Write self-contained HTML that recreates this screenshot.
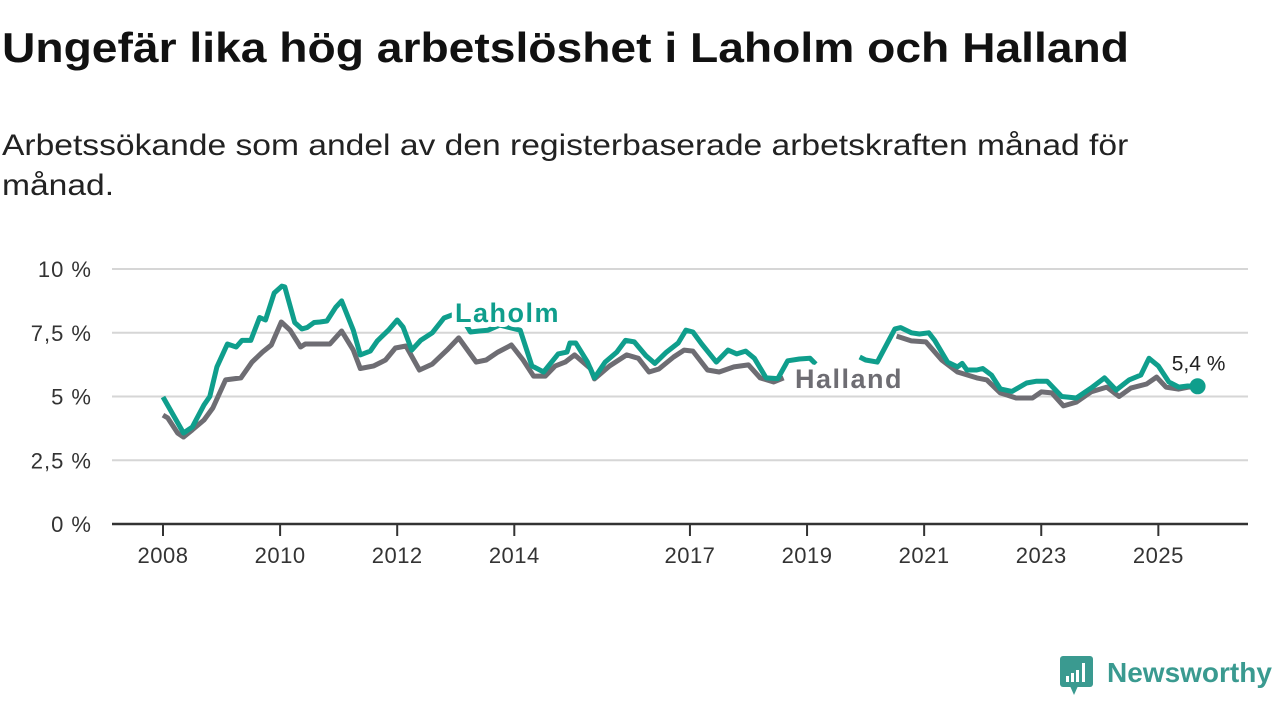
<!DOCTYPE html>
<html><head><meta charset="utf-8">
<style>
body{margin:0;width:1280px;height:720px;background:#fff;font-family:"Liberation Sans","DejaVu Sans",sans-serif;overflow:hidden;position:relative}
h1{position:absolute;left:2px;top:24px;margin:0;font-size:42px;font-weight:bold;color:#111;transform:scaleX(1.1);transform-origin:0 0;white-space:nowrap}
p{position:absolute;left:2px;top:126px;margin:0;font-size:30px;line-height:40px;color:#222;width:1060px;transform:scaleX(1.12);transform-origin:0 0}
svg{position:absolute;left:0;top:0}
</style></head><body>
<h1>Ungefär lika hög arbetslöshet i Laholm och Halland</h1>
<p>Arbetssökande som andel av den registerbaserade arbetskraften månad för månad.</p>
<svg id="chart" width="1280" height="720"></svg>
<script>
const yTicks=[0,2.5,5,7.5,10];
const yTickLabels=["0 %","2,5 %","5 %","7,5 %","10 %"];
const xTicks=[2008,2010,2012,2014,2017,2019,2021,2023,2025];
const laholmDates=[2008.0,2008.35,2008.5,2008.7,2008.8,2008.92,2009.1,2009.25,2009.35,2009.5,2009.65,2009.75,2009.9,2010.03,2010.08,2010.25,2010.37,2010.46,2010.58,2010.68,2010.8,2010.95,2011.05,2011.25,2011.37,2011.54,2011.66,2011.85,2012.0,2012.1,2012.25,2012.4,2012.6,2012.8,2013.05,2013.25,2013.4,2013.55,2013.75,2014.1,2014.3,2014.5,2014.75,2014.9,2014.95,2015.05,2015.25,2015.37,2015.55,2015.75,2015.9,2016.05,2016.25,2016.4,2016.6,2016.8,2016.93,2017.05,2017.2,2017.45,2017.65,2017.8,2017.95,2018.1,2018.3,2018.5,2018.67,2018.87,2019.05,2019.15,2019.5,2019.9,2020.0,2020.2,2020.5,2020.6,2020.78,2020.92,2021.08,2021.18,2021.4,2021.57,2021.65,2021.73,2021.9,2022.0,2022.15,2022.3,2022.5,2022.75,2022.92,2023.1,2023.35,2023.6,2023.85,2024.08,2024.28,2024.5,2024.7,2024.84,2025.0,2025.18,2025.35,2025.5,2025.67];
const laholmValues=[4.98,3.57,3.8,4.67,5.0,6.16,7.06,6.94,7.2,7.2,8.1,8.0,9.06,9.33,9.3,7.9,7.65,7.7,7.9,7.92,7.96,8.5,8.75,7.6,6.63,6.78,7.18,7.6,8.0,7.72,6.82,7.2,7.5,8.08,8.3,7.53,7.57,7.6,7.8,7.6,6.2,5.96,6.67,6.74,7.1,7.1,6.35,5.73,6.35,6.74,7.2,7.14,6.6,6.3,6.74,7.1,7.6,7.53,7.06,6.35,6.82,6.67,6.78,6.5,5.73,5.7,6.4,6.47,6.5,6.27,null,6.55,6.43,6.35,7.65,7.7,7.5,7.45,7.5,7.2,6.35,6.16,6.3,6.04,6.04,6.1,5.84,5.3,5.2,5.53,5.6,5.6,5.0,4.94,5.33,5.73,5.25,5.65,5.84,6.5,6.2,5.57,5.37,5.41,5.4];
const hallandDates=[2008.0,2008.08,2008.25,2008.35,2008.5,2008.7,2008.85,2009.07,2009.33,2009.52,2009.7,2009.85,2010.02,2010.17,2010.35,2010.43,2010.85,2011.05,2011.25,2011.37,2011.6,2011.8,2011.97,2012.15,2012.38,2012.6,2012.85,2013.05,2013.35,2013.52,2013.72,2013.95,2014.15,2014.33,2014.53,2014.7,2014.87,2015.03,2015.3,2015.37,2015.63,2015.92,2016.12,2016.3,2016.47,2016.72,2016.9,2017.05,2017.3,2017.5,2017.75,2018.0,2018.2,2018.43,2018.6,2019.5,2020.53,2020.78,2021.03,2021.3,2021.57,2021.9,2022.07,2022.3,2022.57,2022.85,2023.0,2023.18,2023.38,2023.6,2023.85,2024.12,2024.33,2024.53,2024.8,2024.97,2025.13,2025.35,2025.52,2025.67];
const hallandValues=[4.27,4.16,3.57,3.41,3.69,4.08,4.55,5.65,5.73,6.35,6.74,7.02,7.92,7.6,6.94,7.06,7.06,7.57,6.82,6.1,6.2,6.43,6.9,6.98,6.04,6.27,6.82,7.3,6.35,6.43,6.74,7.02,6.43,5.8,5.8,6.2,6.35,6.63,6.1,5.69,6.2,6.63,6.5,5.96,6.08,6.55,6.82,6.78,6.04,5.96,6.16,6.24,5.73,5.57,5.73,null,7.37,7.18,7.14,6.43,5.96,5.73,5.65,5.14,4.94,4.94,5.18,5.14,4.63,4.78,5.18,5.37,5.0,5.33,5.49,5.76,5.37,5.29,5.37,5.4];
const lastValueLabel="5,4 %";

const NS="http://www.w3.org/2000/svg";
const svg=document.getElementById('chart');
const xs=d=>163+(d-2008)*58.55;
const ys=v=>524-v*25.5;
function mk(tag,attrs,parent){const e=document.createElementNS(NS,tag);for(const k in attrs)e.setAttribute(k,attrs[k]);(parent||svg).appendChild(e);return e;}

yTicks.forEach((t,i)=>{
  if(t>0){const g=mk('line',{x1:112,x2:1248,y1:ys(t),y2:ys(t),stroke:'#d6d6d6','stroke-width':2});
  
  }
  const l=mk('text',{x:92,y:ys(t)+8,'text-anchor':'end','font-size':22,'letter-spacing':1,fill:'#333'});
  l.textContent=yTickLabels[i];
  
  
});
const ax=mk('line',{x1:112,x2:1248,y1:524,y2:524,stroke:'#333','stroke-width':2.5});


xTicks.forEach(t=>{
  const tk=mk('line',{x1:xs(t),x2:xs(t),y1:524,y2:536,stroke:'#333','stroke-width':2});
  
  
  const l=mk('text',{x:xs(t),y:563,'text-anchor':'middle','font-size':22,'letter-spacing':0.5,fill:'#333'});
  l.textContent=t;
  
  
});
function path(dates,vals){let s='',pen=false;dates.forEach((d,i)=>{const v=vals[i];if(v===null){pen=false;return;}s+=(pen?'L':'M')+xs(d).toFixed(1)+','+ys(v).toFixed(1);pen=true;});return s;}
const hl=mk('path',{d:path(hallandDates,hallandValues),fill:'none',stroke:'#6e6d73','stroke-width':5,'stroke-linejoin':'round'});


const ll=mk('path',{d:path(laholmDates,laholmValues),fill:'none',stroke:'#0f9e8c','stroke-width':5,'stroke-linejoin':'round'});


const n=laholmDates.length-1;
const dot=mk('circle',{cx:xs(laholmDates[n]),cy:ys(laholmValues[n]),r:8,fill:'#0f9e8c'});


const lv=mk('text',{x:xs(laholmDates[n])+1,y:ys(laholmValues[n])-16,'text-anchor':'middle','font-size':21,fill:'#222',stroke:'#fff','stroke-width':6,'paint-order':'stroke'});
lv.textContent=lastValueLabel;


const lab1=mk('text',{x:455,y:322,'font-size':27,'letter-spacing':1.5,'font-weight':'bold',fill:'#0f9e8c',stroke:'#fff','stroke-width':10,'paint-order':'stroke','stroke-linejoin':'round'});
lab1.textContent='Laholm';


const lab2=mk('text',{x:795,y:388,'font-size':27,'letter-spacing':1.5,'font-weight':'bold',fill:'#6e6d73',stroke:'#fff','stroke-width':10,'paint-order':'stroke','stroke-linejoin':'round'});
lab2.textContent='Halland';


</script>
<svg width="1280" height="720" style="pointer-events:none">
<rect x="1060" y="656" width="33" height="31" rx="3" fill="#3a9a90"/>
<polygon points="1070,686 1078,686 1074,695" fill="#3a9a90"/>
<rect x="1066" y="676" width="3" height="6" fill="#fff"/><rect x="1071" y="673" width="3" height="9" fill="#fff"/><rect x="1076" y="670" width="3" height="12" fill="#fff"/><rect x="1082" y="663" width="3" height="19" fill="#fff"/>
<text x="1107" y="682" font-size="28" font-weight="bold" fill="#3a9a90" font-family="Liberation Sans, sans-serif">Newsworthy</text>
</svg>
</body></html>
